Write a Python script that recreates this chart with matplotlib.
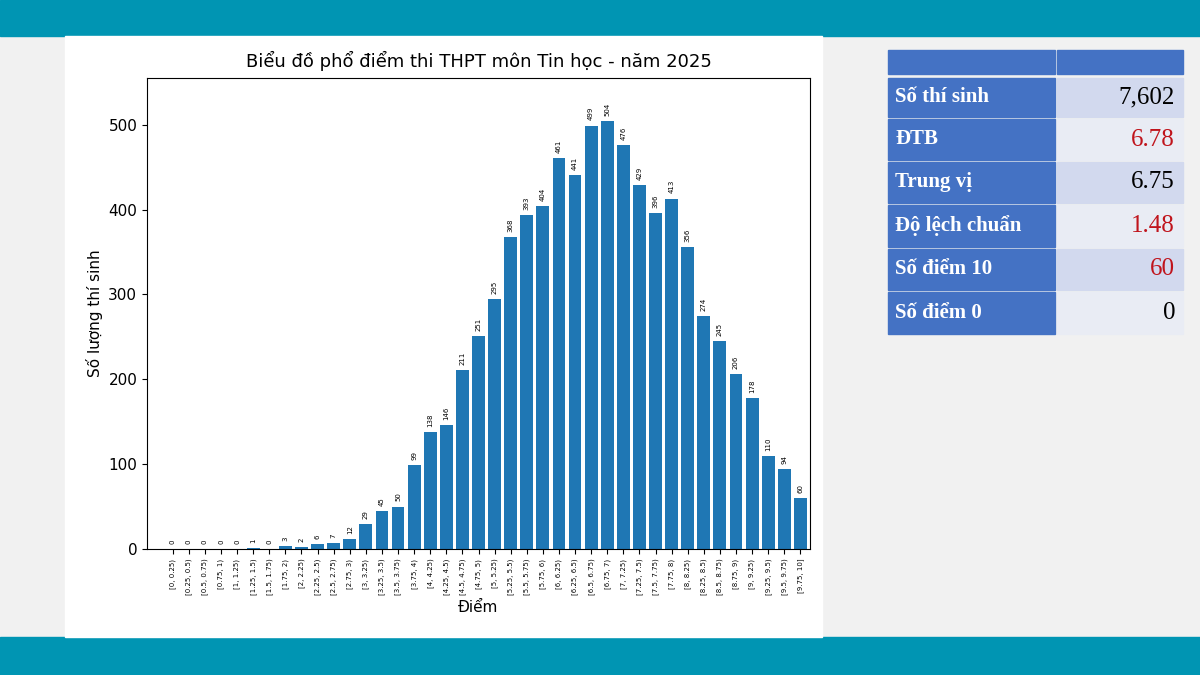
import matplotlib
matplotlib.use("Agg")
import matplotlib.pyplot as plt
from matplotlib.patches import Rectangle

counts = [0,0,0,0,0,1,0,3,2,6,7,12,29,45,50,99,138,146,211,251,295,368,393,404,
          461,441,499,504,476,429,396,413,356,274,245,206,178,110,94,60]
edges = [i*0.25 for i in range(41)]
def fmt(v):
    return f"{v:g}"
labels = [f"[{fmt(edges[i])}, {fmt(edges[i+1])})" for i in range(39)] + ["[9.75, 10]"]
stat_names = ["Số thí sinh", "ĐTB", "Trung vị", "Độ lệch chuẩn", "Số điểm 10", "Số điểm 0"]
stat_values = ["7,602", "6.78", "6.75", "1.48", "60", "0"]
stat_red = [False, True, False, True, True, False]

W, H = 1200, 675
fig = plt.figure(figsize=(12, 6.75), dpi=100)
fig.patch.set_facecolor("#f1f1f1")

def rect(x0, y0, x1, y1, color, z=-10):
    fig.patches.append(Rectangle((x0/W, 1-y1/H), (x1-x0)/W, (y1-y0)/H,
                                 transform=fig.transFigure, color=color, zorder=z))

rect(0, 0, 1200, 36, "#0095b3")
rect(0, 637, 1200, 675, "#0095b3")
rect(65, 36, 822, 637, "white")

ax = fig.add_axes([147/W, 1-549/H, (810-147)/W, (549-78)/H])
ax.set_zorder(10)
x = list(range(len(counts)))
ax.bar(x, counts, color="#1f77b4", width=0.8)
for xi, c in zip(x, counts):
    ax.text(xi, c + 6, str(c), rotation=90, ha="center", va="bottom", fontsize=5)
ax.set_xticks(x)
ax.set_xticklabels(labels, rotation=90, fontsize=5)
ax.set_xlim(-1.6, len(counts) - 0.4)
ax.set_ylim(0, 555)
ax.set_yticks([0, 100, 200, 300, 400, 500])
ax.tick_params(axis="y", labelsize=11)
ax.set_xlabel("Điểm", fontsize=11, labelpad=3)
ax.set_ylabel("Số lượng thí sinh", fontsize=11)
ax.set_title("Biểu đồ phổ điểm thi THPT môn Tin học - năm 2025", fontsize=13, pad=8)

blue = "#4472c4"
rect(888, 50, 1055, 74, blue)
rect(1057, 50, 1183, 74, blue)
rows = [(78, 117), (119, 160), (162, 203), (205, 247), (249, 290), (292, 334)]
for i, (y0, y1) in enumerate(rows):
    rect(888, y0, 1055, y1, blue)
    rect(1057, y0, 1183, y1, "#d2d9ee" if i % 2 == 0 else "#e9ecf4")
    yc = 1 - (y0 + y1) / 2 / H
    fig.text(895/W, yc, stat_names[i], color="white", fontsize=15, fontweight="bold",
             family="Liberation Serif", va="center", ha="left")
    fig.text(1175/W, yc, stat_values[i], color="#c0141c" if stat_red[i] else "black",
             fontsize=18, family="Liberation Serif", va="center", ha="right")

fig.savefig("out.png", dpi=100, facecolor=fig.get_facecolor())
